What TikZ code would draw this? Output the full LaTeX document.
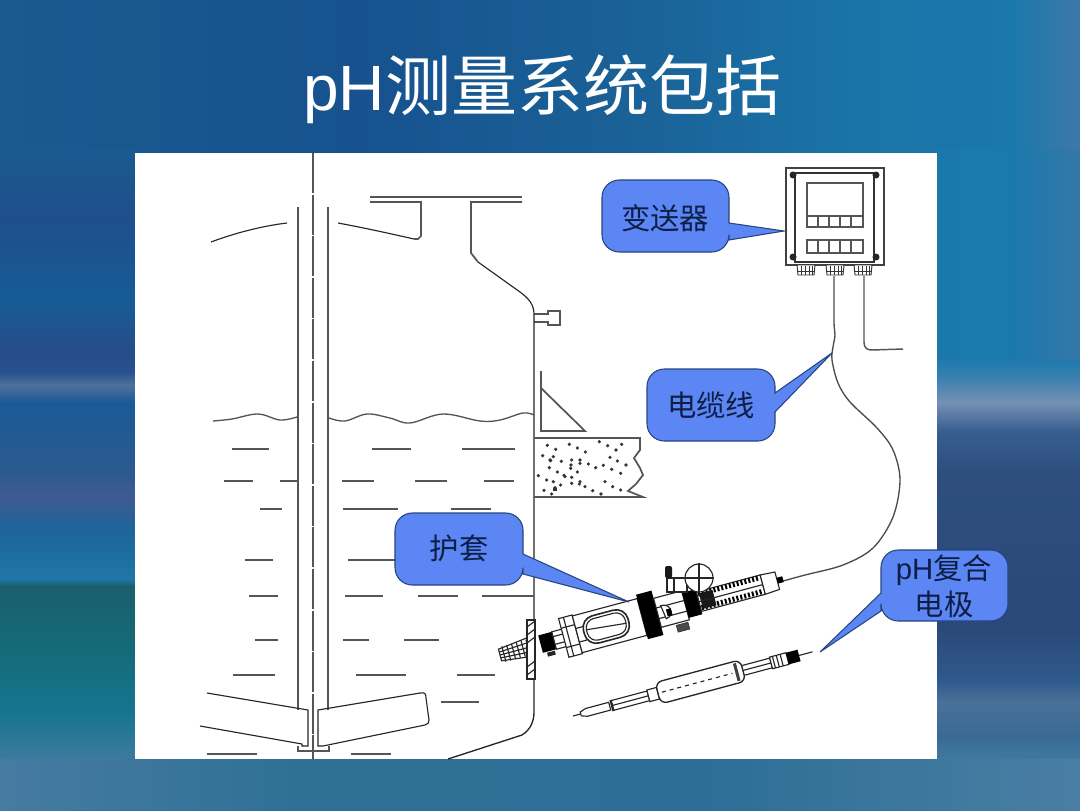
\documentclass[tikz,border=0pt]{standalone}
\usepackage{fontspec}
\setmainfont{Liberation Sans}
\newfontfamily\cjk{Noto Sans CJK SC}
\definecolor{calloutfill}{HTML}{5B86F4}
\definecolor{calloutedge}{HTML}{27457F}
\definecolor{callouttext}{HTML}{0E1E46}
\definecolor{tankgrey}{HTML}{555555}
\newcommand{\vband}[6]{\definecolor{ca}{HTML}{#5}\definecolor{cb}{HTML}{#6}\shade[top color=ca,bottom color=cb] (#1,#3) rectangle (#2,#4);}
\newcommand{\hband}[6]{\definecolor{ca}{HTML}{#5}\definecolor{cb}{HTML}{#6}\shade[left color=ca,right color=cb] (#1,#3) rectangle (#2,#4);}
\tikzset{
  tankline/.style={draw=tankgrey,line width=1.3pt},
  inkline/.style={draw=black!85,line width=.85pt},
  thinline/.style={draw=black!80,line width=.5pt},
  cablewire/.style={draw=black!70,line width=1pt},
  callout/.style={fill=calloutfill,draw=calloutedge,line width=.8pt},
  callouttxt/.style={text=callouttext,font=\cjk\fontsize{22}{25}\selectfont,align=center,inner sep=0pt},
  titletxt/.style={text=white,font=\fontsize{48}{50}\selectfont,inner sep=0pt,anchor=base west},
  grain/.style={fill=black!80,draw=none}
}
\begin{document}
\begin{tikzpicture}[x=0.75pt,y=-0.75pt]
\useasboundingbox (0,0) rectangle (1080,810);
% background
\hband{0}{360}{-1}{153}{1A5A90}{17528E}
\hband{360}{640}{-1}{153}{17528E}{1A6298}
\hband{640}{860}{-1}{153}{1A6298}{1A74A8}
\hband{860}{1010}{-1}{153}{1A74A8}{1A78AC}
\hband{1010}{1081}{-1}{153}{1A78AC}{3D78A8}
\vband{-1}{136}{150}{222}{1A5A90}{1E4F8C}
\vband{-1}{136}{222}{300}{1E4F8C}{165C95}
\vband{-1}{136}{300}{350}{165C95}{264C8A}
\vband{-1}{136}{350}{372}{264C8A}{27508E}
\vband{-1}{136}{372}{385}{27508E}{4F719E}
\vband{-1}{136}{385}{402}{4F719E}{1B5A96}
\vband{-1}{136}{402}{470}{1B5A96}{2A5A8F}
\vband{-1}{136}{470}{495}{2A5A8F}{3F5A92}
\vband{-1}{136}{495}{530}{3F5A92}{1C6499}
\vband{-1}{136}{530}{579}{1C6499}{1E77A6}
\vband{-1}{136}{579}{586}{1E77A6}{1B5E6E}
\vband{-1}{136}{586}{650}{1B5E6E}{156B78}
\vband{-1}{136}{650}{710}{156B78}{15758E}
\vband{-1}{136}{710}{760}{15758E}{3F7A9E}
\hband{936}{1010}{150}{360}{1A78AC}{1A7AAE}
\hband{1010}{1081}{150}{360}{1A78AC}{3478A8}
\vband{936}{1081}{360}{378}{1F7AAE}{3A80B0}
\vband{936}{1081}{378}{402}{3A80B0}{7590B4}
\vband{936}{1081}{402}{432}{7590B4}{375D8E}
\vband{936}{1081}{432}{470}{375D8E}{2D4F80}
\vband{936}{1081}{470}{625}{2D4F80}{2A4878}
\vband{936}{1081}{625}{680}{2A4878}{2F5A8C}
\vband{936}{1081}{680}{702}{2F5A8C}{4A7098}
\vband{936}{1081}{702}{735}{4A7098}{3A6A94}
\vband{936}{1081}{735}{760}{3A6A94}{3F7AA0}
\hband{-1}{300}{759}{811}{467BA2}{2F7096}
\hband{300}{700}{759}{811}{2F7096}{2C6E96}
\hband{700}{1081}{759}{811}{2C6E96}{4A7EA4}
% panel
\fill[white] (135,153) rectangle (937,759);
% title
\node[titletxt] (title) at (303,110) {pH{\cjk\fontsize{49.5}{50}\selectfont 测量系统包括}};
% tank
\begin{scope}
\clip (135,153) rectangle (937,759);
\draw[tankline,dash pattern=on 30pt off 1.2pt] (313,153) -- (313,759);
\draw[tankline] (298,207) -- (298,710);
\draw[tankline] (328,207) -- (328,710);
% roof
\draw[inkline] (211,242) .. controls (235,233) and (262,226) .. (287,223);
\draw[inkline] (338,223) .. controls (365,228) and (392,234) .. (414,239);
\draw[tankline] (414,239) -- (418,239) -- (421,236) -- (421,202) -- (370,202);
\draw[tankline] (370,197) -- (522,197);
\draw[tankline] (522,202) -- (471,202) -- (471,253) -- (478,262);
\draw[inkline] (478,262) -- (520,292) .. controls (528,298) and (534,304) .. (534,314);
% nozzle
\draw[tankline,line width=1pt] (534,314) -- (548,314) -- (548,311) -- (560,311) -- (560,325) -- (548,325) -- (548,322) -- (534,322);
% wall
\draw[inkline,line width=1pt] (534,314) -- (534,712) .. controls (534,722) and (530,730) .. (522,735) -- (448,759);
% surface
\draw[draw=tankgrey,line width=1pt] plot[smooth,tension=.6] coordinates {(213,421) (232,419) (258,414) (280,420) (297,417)};
\draw[draw=tankgrey,line width=1pt] plot[smooth,tension=.6] coordinates {(329,418) (345,421) (367,414) (390,418) (410,423) (443,414) (480,421) (500,420) (523,413) (534,415)};
% liquid dashes
\foreach \y/\a/\b in {449/232/269,449/372/411,449/462/515,
 481/224/253,481/280/298,481/342/374,481/415/447,481/484/514,
 509/260/282,509/343/398,509/451/491,
 560/245/273,560/348/395,
 596/249/278,596/345/383,596/418/458,596/482/534,
 640/255/278,640/343/369,640/404/439,
 675/233/275,675/356/406,675/457/495,
 702/441/479,
 754/207/257,754/351/391}
  \draw[tankline,line width=1pt] (\a,\y) -- (\b,\y);
% blades
\draw[inkline] (207,693) -- (308,710) -- (308,746) -- (302,746) -- (302,744) -- (200,726);
\draw[inkline] (318,710) -- (420,693) .. controls (425,692) and (426,694) .. (426,698) -- (429,720) .. controls (429,723) and (428,724) .. (425,725) -- (323,746) -- (318,746) -- cycle;
\draw[tankline,line width=.8pt] (298,746) -- (298,751) -- (329,751) -- (329,746);
% triangle
\draw[tankline] (541,371) -- (541,431) -- (585,431) -- (541,388);
% concrete
\draw[tankline] (534,438) -- (640,438) -- (640,450) -- (634,458) -- (640,468) -- (643,475) -- (636,484) -- (628,491) -- (643,497) -- (534,497);
\begin{scope}[shift={(500,290)}]
\foreach \p/\q in {142/466,167/478,208/463,232/474,256/486,298/455,323/467,365/463,348/480,
 128/497,160/500,152/512,184/514,215/510,240/510,265/522,287/533,310/526,335/538,362/550,378/525,330/502,352/513,
 115/557,148/533,172/546,192/556,215/562,232/546,240/520,213/525,
 140/570,160/575,182/585,215/580,240/575,255/590,278/602,303/612,315/575,338/590,362/600,
 132/601,155/612,165/593,238/582,195/560,212/535,150/510}
  \fill[grain] ({\p/3},{\q/3}) circle (1.8);
\end{scope}
\fill[grain] (553,488) rectangle (557,491);
\end{scope}
% transmitter
\draw[tankline,draw=black!75] (786,168) rectangle (884,265);
\draw[thinline,line width=.9pt] (795,173) -- (874,173) -- (874,262) -- (795,262) -- cycle;
\foreach \cx/\cy in {793/175,876/175,793/257,876/257}
  \fill[black!85] (\cx,\cy) circle (3.5);
\draw[tankline,line width=1pt] (807,183) rectangle (863,227);
\draw[tankline,line width=1pt] (807,216) -- (863,216);
\foreach \dx in {818,829,840,851} {
  \draw[tankline,line width=1pt] (\dx,216) -- (\dx,227);
  \draw[tankline,line width=1.1pt] (\dx,240) -- (\dx,253);
}
\draw[tankline,line width=1.1pt] (807,240) rectangle (863,253);
\foreach \gx in {797,826,854} {
  \draw[thinline,fill=white,line width=.7pt] (\gx,265) -- (\gx+18,265) -- (\gx+17,275) -- (\gx+1,275) -- cycle;
  \foreach \tx in {4,8,12,15} \draw[thinline] (\gx+\tx,266) -- (\gx+\tx,275);
  \draw[thinline] (\gx+1,271) -- (\gx+17,271);
}
% cables
\coordinate (cableA) at (834,276);
\coordinate (cableB) at (864,276);
\coordinate (cableEnd) at (903,349);
\coordinate (sleeveTip) at (783,581);
\draw[cablewire,line width=1.1pt,draw=tankgrey] (cableB) -- (864,342) .. controls (864,348) and (867,350) .. (872,350) -- (cableEnd);
\draw[cablewire] plot[smooth,tension=.55] coordinates {(834,276) (834,322) (835,335) (833,347) (832,360) (838,383) (850,402) (877,428) (893,450) (900,480) (893,517) (873,548) (843,565) (805,575) (783,581)};
% sleeve assembly
\begin{scope}[shift={(500,655)},rotate=15]
\draw[inkline,fill=white] (0,-6) -- (34,-10) -- (34,10) -- (0,6) -- cycle;
\foreach \u in {4,9,14,19,24,29} \draw[inkline] (\u,-8) -- (\u,8);
\draw[inkline] (0,0) -- (34,0);
\draw[inkline] (0,-3) -- (34,-5);
\draw[inkline] (0,3) -- (34,5);
\fill[black] (42,-9) rectangle (56,9);
\draw[inkline,fill=white] (56,-9) rectangle (67,9);
\draw[inkline] (56,-4) -- (67,-4) (56,4) -- (67,4);
\fill[black!85] (46,10) rectangle (54,14);
\draw[inkline,fill=white] (66,-20) rectangle (80,20);
\draw[inkline] (71,-20) -- (71,20);
\draw[inkline] (66,-10) -- (80,-10) (66,10) -- (80,10);
\draw[inkline,fill=white] (80,-19) -- (147,-19) -- (147,19) -- (80,19) -- cycle;
\draw[inkline] (80,-6) -- (88,-6) (80,8) -- (88,8);
\draw[inkline,line width=1.2pt,fill=white,rounded corners=9] (87,-14) rectangle (133,14);
\draw[inkline,rounded corners=7] (90,-11) rectangle (130,11);
\draw[inkline] (90,-2) -- (130,2);
\fill[black] (147,-23) rectangle (163,23);
\draw[inkline,fill=white] (163,-15) rectangle (192,15);
\draw[inkline] (163,-5) -- (192,-5) (163,6) -- (192,6);
\draw[inkline,fill=white] (168,-6) .. controls (178,-7) and (180,7) .. (170,8) -- cycle;
\fill[black] (172,-1) rectangle (177,6);
\fill[black] (192,-13) rectangle (206,13);
\draw[thinline,fill=black!70] (178,17) rectangle (190,24);
\draw[inkline,fill=white] (206,-10) rectangle (272,10);
\foreach \u in {208,212,...,268} {
  \draw[black,line width=1.5pt] (\u,-10) -- (\u,-5);
  \draw[black,line width=1.5pt] (\u,4) -- (\u,9);
}
\fill[black!90] (208,-8) rectangle (222,8);
\draw[inkline] (206,0) -- (272,0);
\draw[inkline,fill=white] (272,-10) -- (287,-9) -- (287,9) -- (272,10) -- cycle;
\fill[black] (287,-3) rectangle (293,3);
\end{scope}
% flange
\draw[inkline,fill=white] (527,620) rectangle (535,679);
\foreach \v in {624,632,640,664,672} \draw[inkline] (527,\v+3) -- (535,\v-3);
% gauge
\draw[inkline,fill=white] (667,578) rectangle (687,592);
\draw[inkline] (674,578) -- (674,592);
\fill[black!90,rounded corners=1.5] (665,566) rectangle (672,578);
\node[circle,draw=black!85,fill=white,line width=.85pt,minimum size=28*0.75pt,inner sep=0pt] (gauge) at (699,578) {};
\draw[inkline] (gauge.north) -- (gauge.south) (gauge.west) -- (gauge.east);
% pH electrode
\begin{scope}[shift={(573,716)},rotate=15]
\draw[inkline] (0,0) -- (14,0);
\draw[inkline,fill=white] (8,-2) -- (14,-4) -- (38,-4) -- (38,4) -- (14,4) -- (8,2) -- cycle;
\draw[inkline,line width=1.1pt] (40,-5) rectangle (41,5);
\draw[inkline,fill=white] (41,-5) rectangle (78,5);
\draw[inkline] (41,0) -- (78,0);
\draw[inkline,fill=white] (78,-6) rectangle (88,6);
\draw[inkline,line width=1pt,fill=white,rounded corners=5] (88,-11) rectangle (176,11);
\draw[inkline,dashed] (92,0) -- (165,0);
\fill[black!75] (168,-9) rectangle (171,9);
\draw[inkline,fill=white] (176,-5) rectangle (205,5);
\draw[inkline] (176,0) -- (205,0);
\draw[inkline,fill=white] (205,-6) rectangle (222,6);
\foreach \u in {208,212,216} \draw[inkline] (\u,-6) -- (\u,6);
\fill[black] (222,-6) rectangle (234,6);
\draw[inkline] (234,0) -- (248,0);
\end{scope}
% callouts
\draw[callout] (665,180) [rounded corners=13] -- (729,180) [sharp corners] -- (729,223) -- (784,231) -- (729,240) [rounded corners=13] -- (729,252) -- (602,252) -- (602,180) -- cycle;
\node[callouttxt] (c1) at (665,218) {变送器};
\draw[callout] (711,369) [rounded corners=13] -- (775,369) [sharp corners] -- (775,393) -- (832,353) -- (775,412) [rounded corners=13] -- (775,441) -- (647,441) -- (647,369) -- cycle;
\node[callouttxt] (c2) at (711,405) {电缆线};
\draw[callout] (459,513) [rounded corners=13] -- (523,513) [sharp corners] -- (523,554) -- (629,602) -- (523,574) [rounded corners=13] -- (523,585) -- (395,585) -- (395,513) -- cycle;
\node[callouttxt] (c3) at (459,548) {护套};
\draw[callout] (945,550) [rounded corners=13] -- (1008,550) -- (1008,621) -- (881,621) [sharp corners] -- (881,611) -- (820,652) -- (881,593) [rounded corners=13] -- (881,550) -- cycle;
\node[callouttxt,font={\fontsize{22}{25}\selectfont}] (c4) at (944,586) {pH{\cjk 复合}\\[0.1em]{\cjk 电极}};
\end{tikzpicture}
\end{document}
